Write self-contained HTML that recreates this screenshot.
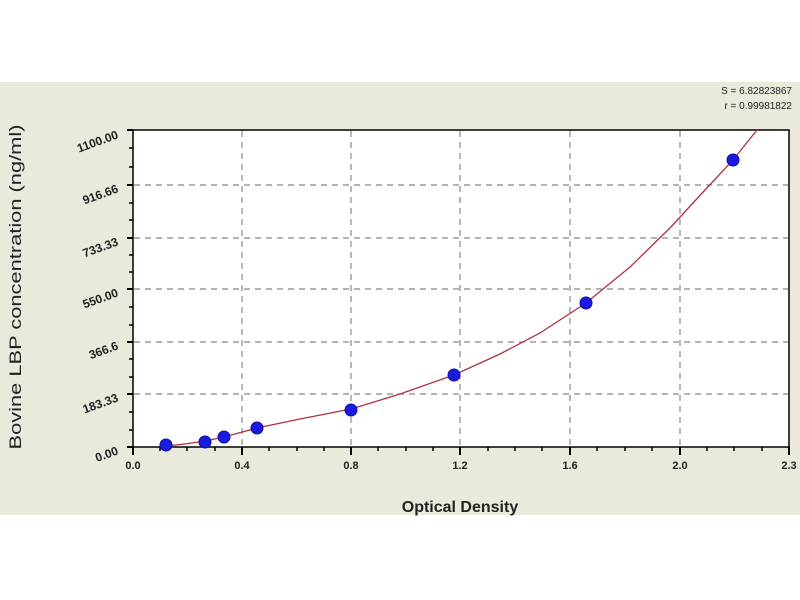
<!DOCTYPE html>
<html><head><meta charset="utf-8"><style>
html,body{margin:0;padding:0;background:#fff;}
svg{display:block;}
text{font-family:"Liberation Sans",Arial,sans-serif;}
</style></head><body>
<svg width="800" height="600" viewBox="0 0 800 600" xmlns="http://www.w3.org/2000/svg">
<rect x="0" y="0" width="800" height="600" fill="#fff"/>
<rect x="0" y="82" width="800" height="433" fill="#ebe8dc"/>
<rect x="133" y="130" width="656" height="317" fill="#fff" stroke="#000" stroke-width="1.5"/>
<g stroke="#888" stroke-width="1.2" stroke-dasharray="6,5">
<line x1="242" y1="131" x2="242" y2="446"/>
<line x1="351" y1="131" x2="351" y2="446"/>
<line x1="460" y1="131" x2="460" y2="446"/>
<line x1="570" y1="131" x2="570" y2="446"/>
<line x1="680" y1="131" x2="680" y2="446"/>
<line x1="134" y1="185" x2="788" y2="185"/>
<line x1="134" y1="238" x2="788" y2="238"/>
<line x1="134" y1="289" x2="788" y2="289"/>
<line x1="134" y1="342" x2="788" y2="342"/>
<line x1="134" y1="394" x2="788" y2="394"/>
</g>
<g stroke="#000" stroke-width="2">
<line x1="133" y1="447" x2="133" y2="455"/><line x1="242" y1="447" x2="242" y2="455"/><line x1="351" y1="447" x2="351" y2="455"/><line x1="460" y1="447" x2="460" y2="455"/><line x1="570" y1="447" x2="570" y2="455"/><line x1="680" y1="447" x2="680" y2="455"/><line x1="789" y1="447" x2="789" y2="455"/>
<line x1="127" y1="130" x2="133" y2="130"/><line x1="127" y1="185" x2="133" y2="185"/><line x1="127" y1="238" x2="133" y2="238"/><line x1="127" y1="289" x2="133" y2="289"/><line x1="127" y1="342" x2="133" y2="342"/><line x1="127" y1="394" x2="133" y2="394"/><line x1="127" y1="447" x2="133" y2="447"/>
</g>
<g stroke="#000" stroke-width="1.5">
<line x1="160" y1="447" x2="160" y2="451"/><line x1="187" y1="447" x2="187" y2="451"/><line x1="215" y1="447" x2="215" y2="451"/><line x1="269" y1="447" x2="269" y2="451"/><line x1="297" y1="447" x2="297" y2="451"/><line x1="324" y1="447" x2="324" y2="451"/><line x1="378" y1="447" x2="378" y2="451"/><line x1="406" y1="447" x2="406" y2="451"/><line x1="433" y1="447" x2="433" y2="451"/><line x1="488" y1="447" x2="488" y2="451"/><line x1="515" y1="447" x2="515" y2="451"/><line x1="542" y1="447" x2="542" y2="451"/><line x1="597" y1="447" x2="597" y2="451"/><line x1="625" y1="447" x2="625" y2="451"/><line x1="652" y1="447" x2="652" y2="451"/><line x1="707" y1="447" x2="707" y2="451"/><line x1="734" y1="447" x2="734" y2="451"/><line x1="762" y1="447" x2="762" y2="451"/>
<line x1="129" y1="148" x2="133" y2="148"/><line x1="129" y1="167" x2="133" y2="167"/><line x1="129" y1="203" x2="133" y2="203"/><line x1="129" y1="220" x2="133" y2="220"/><line x1="129" y1="255" x2="133" y2="255"/><line x1="129" y1="272" x2="133" y2="272"/><line x1="129" y1="307" x2="133" y2="307"/><line x1="129" y1="325" x2="133" y2="325"/><line x1="129" y1="359" x2="133" y2="359"/><line x1="129" y1="377" x2="133" y2="377"/><line x1="129" y1="412" x2="133" y2="412"/><line x1="129" y1="430" x2="133" y2="430"/>
</g>
<path d="M166,446 L185,444 L205,441 L224,437 L257,428 L300,419 L351,409 L400,394 L454,375 L500,354 L540,333 L586,303 L630,267 L670,228 L705,190 L733,160 L757,130" fill="none" stroke="#b03040" stroke-width="1.3"/>
<g fill="#1a1ae0" stroke="#1010a0" stroke-width="1">
<circle cx="166" cy="445" r="6"/><circle cx="205" cy="442" r="6"/><circle cx="224" cy="437" r="6"/><circle cx="257" cy="428" r="6"/><circle cx="351" cy="410" r="6"/><circle cx="454" cy="375" r="6"/><circle cx="586" cy="303" r="6"/><circle cx="733" cy="160" r="6"/>
</g>
<g font-size="11" font-weight="bold" fill="#222" text-anchor="middle">
<text x="133" y="469">0.0</text><text x="242" y="469">0.4</text><text x="351" y="469">0.8</text><text x="460" y="469">1.2</text><text x="570" y="469">1.6</text><text x="680" y="469">2.0</text><text x="789" y="469">2.3</text>
</g>
<g font-size="12" font-weight="bold" fill="#222" text-anchor="end">
<text transform="translate(119,138) rotate(-20)">1100.00</text>
<text transform="translate(119,192) rotate(-20)">916.66</text>
<text transform="translate(119,245) rotate(-20)">733.33</text>
<text transform="translate(119,296) rotate(-20)">550.00</text>
<text transform="translate(119,349) rotate(-20)">366.6</text>
<text transform="translate(119,401) rotate(-20)">183.33</text>
<text transform="translate(119,454) rotate(-20)">0.00</text>
</g>
<text x="460" y="512" font-size="16" font-weight="bold" fill="#222" text-anchor="middle">Optical Density</text>
<text transform="translate(21,287) rotate(-90)" font-size="17" fill="#222" text-anchor="middle" textLength="325" lengthAdjust="spacingAndGlyphs">Bovine LBP concentration (ng/ml)</text>
<g font-size="10" fill="#222" text-anchor="end">
<text x="792" y="94">S = 6.82823867</text>
<text x="792" y="109">r = 0.99981822</text>
</g>
</svg>
</body></html>
